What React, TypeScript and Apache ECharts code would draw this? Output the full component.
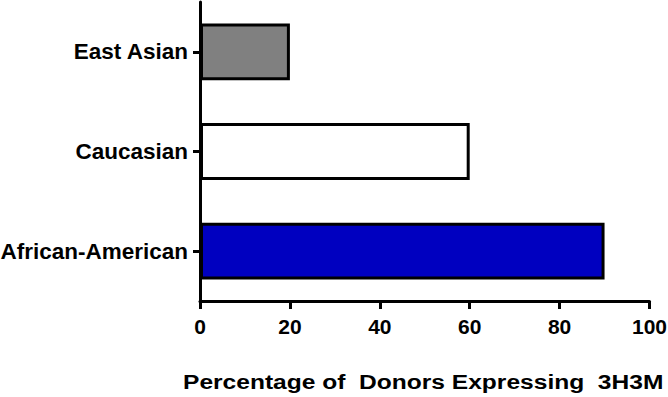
import React, { useEffect, useRef } from "react";
import * as echarts from "echarts";

const categories = ["East Asian", "Caucasian", "African-American"];
const percentages = [20, 60, 90];
const barColors = ["#808080", "#ffffff", "#0000c0"];
const xTicks = [0, 20, 40, 60, 80, 100];
const xTitle = "Percentage of  Donors Expressing  3H3M";

export default function App() {
  const ref = useRef<HTMLDivElement>(null);
  useEffect(() => {
    if (!ref.current) return;
    const chart = echarts.init(ref.current, null, { renderer: "svg" });
    const font = "'Liberation Sans', Arial, sans-serif";
    chart.setOption({
      animation: false,
      backgroundColor: "#ffffff",
      graphic: [
        {
          type: "text",
          x: 183,
          y: 371,
          scaleX: 1.17,
          style: {
            text: xTitle,
            font: "bold 21px 'Liberation Sans', Arial, sans-serif",
            fill: "#000",
            textVerticalAlign: "top",
          },
        },
      ],
      grid: { left: 200, right: 18.5, top: 2, bottom: 96, containLabel: false, outerBoundsMode: "none" },
      xAxis: {
        type: "value",
        min: xTicks[0],
        max: xTicks[xTicks.length - 1],
        interval: 20,
        splitLine: { show: false },
        axisLine: { show: true, lineStyle: { color: "#000", width: 3 } },
        axisTick: { show: true, length: 8, lineStyle: { color: "#000", width: 3 } },
        axisLabel: { margin: 15, fontFamily: font, fontWeight: "bold", fontSize: 21, color: "#000" },
      },
      yAxis: {
        type: "category",
        data: categories,
        inverse: true,
        axisLine: { show: true, lineStyle: { color: "#000", width: 3 } },
        axisTick: { show: true, alignWithLabel: true, length: 7, lineStyle: { color: "#000", width: 3 } },
        axisLabel: { margin: 12, fontFamily: font, fontWeight: "bold", fontSize: 22.5, color: "#000" },
      },
      series: [
        {
          type: "bar",
          barWidth: "57%",
          data: percentages.map((v, i) => ({
            value: v,
            itemStyle: { color: barColors[i], borderColor: "#000", borderWidth: 3 },
          })),
        },
      ],
    });
    return () => chart.dispose();
  }, []);
  return <div ref={ref} style={{ width: 668, height: 397, position: "absolute", left: 0, top: 0 }} />;
}
